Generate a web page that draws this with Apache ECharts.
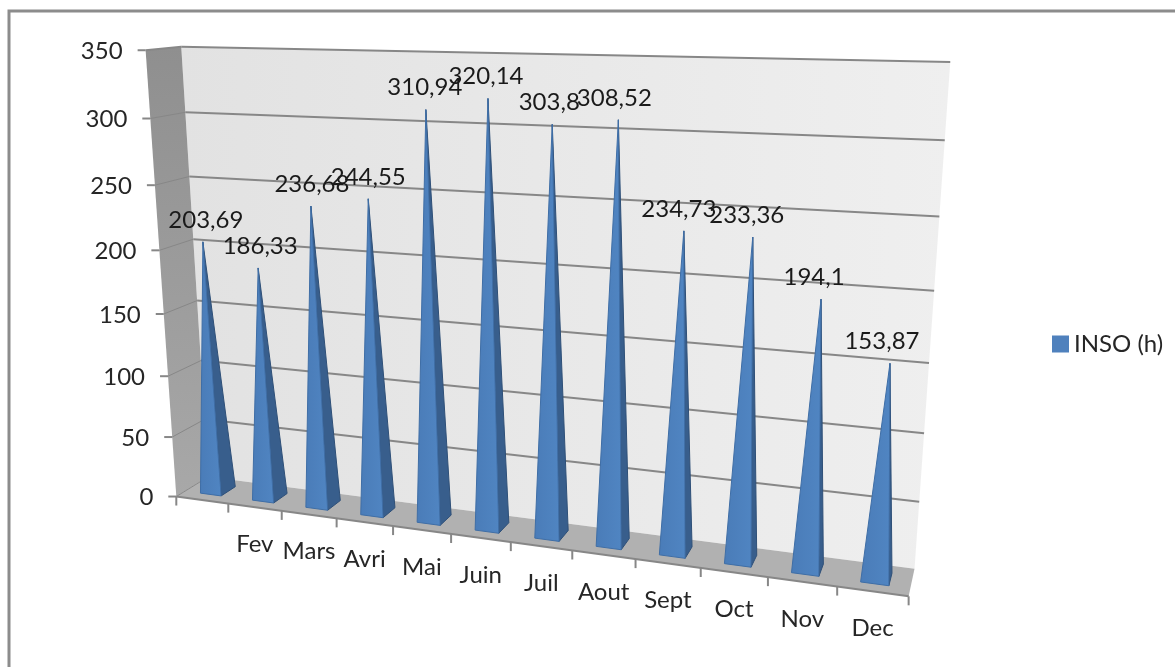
<!DOCTYPE html>
<html><head><meta charset="utf-8">
<style>html,body{margin:0;padding:0;background:#fff}#c{width:1175px;height:667px}</style>
<script src="https://cdn.jsdelivr.net/npm/echarts@6/dist/echarts.min.js"></script>
</head><body><div id="c"></div>
<script>
const categories = ['', 'Fev', 'Mars', 'Avri', 'Mai', 'Juin', 'Juil', 'Aout', 'Sept', 'Oct', 'Nov', 'Dec'];
const insoValues = [203.69, 186.33, 236.68, 244.55, 310.94, 320.14, 303.8, 308.52, 234.73, 233.36, 194.1, 153.87];
const valueTicks = [0, 50, 100, 150, 200, 250, 300, 350];
const seriesName = 'INSO (h)';

/* camera calibration of the 3D box: [u, v, w] -> screen */
const corners = [
  [0,0,0,178.5,497],[1,0,0,908,597],[1,0,1,915,568],[0,0,1,207,476],
  [0,1,1,183,47],[1,1,1,950,62],[0,1,0,144,50]
];
const calib = corners.concat(corners, corners, [
  [0,6/7,1,186,113],[1,6/7,1,945,140.5],[0,1/7,1,201,422],[1,1/7,1,920,502],
  [0,1/7,0,172,436],[0,6/7,0,150,117]
]);
function solveCamera(pts){
  const n=11, A=Array.from({length:n},()=>new Array(n+1).fill(0));
  const add=(r,b)=>{for(let i=0;i<n;i++){for(let j=0;j<n;j++)A[i][j]+=r[i]*r[j];A[i][n]+=r[i]*b;}};
  pts.forEach(([X,Y,Z,px,py])=>{
    const x=px/1000,y=py/1000;
    add([X,Y,Z,1,0,0,0,0,-x*X,-x*Y,-x*Z],x);
    add([0,0,0,0,X,Y,Z,1,-y*X,-y*Y,-y*Z],y);
  });
  for(let c=0;c<n;c++){
    let p=c;for(let r=c+1;r<n;r++)if(Math.abs(A[r][c])>Math.abs(A[p][c]))p=r;
    [A[c],A[p]]=[A[p],A[c]];
    for(let r=0;r<n;r++)if(r!==c){const f=A[r][c]/A[c][c];for(let k=c;k<=n;k++)A[r][k]-=f*A[c][k];}
  }
  return A.map((row,i)=>row[n]/row[i]);
}
const M=solveCamera(calib);
function proj(u,v,w){
  const d=M[8]*u+M[9]*v+M[10]*w+1;
  return [1000*(M[0]*u+M[1]*v+M[2]*w+M[3])/d,1000*(M[4]*u+M[5]*v+M[6]*w+M[7])/d];
}
const font='24px Lato', textColor='#262626', gridColor='#878787';
const chart=echarts.init(document.getElementById('c'),null,{renderer:'canvas'});
const LG=(a,b,c,d,c0,c1)=>new echarts.graphic.LinearGradient(a,b,c,d,[{offset:0,color:c0},{offset:1,color:c1}]);

function norm(params,api,cat,val){
  const r=params.coordSys, p=api.coord([cat,val]);
  return [(p[0]-r.x)/r.width,1-(p[1]-r.y)/r.height];
}
function line(a,b,w){return {type:'line',shape:{x1:a[0],y1:a[1],x2:b[0],y2:b[1]},style:{stroke:gridColor,lineWidth:w||2}};}
function poly(pts,fill,stroke,lw){return {type:'polygon',shape:{points:pts},style:{fill:fill,stroke:stroke||null,lineWidth:lw||0}};}

function renderFrame(params,api){
  const kids=[];
  kids.push({type:'rect',shape:{x:9,y:11,width:1300,height:900},style:{fill:'none',stroke:'#8c8c8c',lineWidth:3}});
  kids.push(poly([proj(0,0,1),proj(1,0,1),proj(1,1,1),proj(0,1,1)],LG(0,0,1,0,'#e2e2e2','#efefef')));
  kids.push(poly([proj(0,0,0),proj(0,0,1),proj(0,1,1),proj(0,1,0)],LG(0,0,0,1,'#8f8f8f','#a8a8a8')));
  kids.push(poly([proj(0,0,0),proj(1,0,0),proj(1,0,1),proj(0,0,1)],'#b1b1b1'));
  valueTicks.forEach(t=>{
    const v=norm(params,api,0,t)[1];
    const a=proj(0,v,0),b=proj(0,v,1),c=proj(1,v,1);
    if(t>0)kids.push(line(b,c));
    kids.push(line(a,b,t===350?2:1));
    kids.push(line([a[0]-8,a[1]],a));
    kids.push({type:'text',style:{text:String(t),x:a[0]-23,y:a[1]+1,font:font,fill:textColor,textAlign:'right',textVerticalAlign:'middle'}});
  });
  const f0=proj(0,0,0),f1=proj(1,0,0);
  kids.push(line(f0,f1));
  const cellU=api.size([1,0])[0]/params.coordSys.width;
  for(let i=0;i<=categories.length;i++){
    const p=proj(i*cellU,0,0);
    kids.push(line(p,[p[0],p[1]+9]));
  }
  categories.forEach((c,i)=>{
    const p=proj(norm(params,api,i,0)[0],0,0);
    kids.push({type:'text',style:{text:c,x:p[0],y:p[1]+37,font:font,fill:textColor,textAlign:'center',textVerticalAlign:'middle'}});
  });
  return {type:'group',children:kids};
}
function renderSpike(params,api){
  const i=api.value(0), val=api.value(1);
  const n=norm(params,api,i,val), uc=n[0], v=n[1];
  const half=0.2*api.size([1,0])[0]/params.coordSys.width;
  const w0=0.27,w1=0.73;
  const fl=proj(uc-half,0,w0),fr=proj(uc+half,0,w0),br=proj(uc+half,0,w1);
  const apex=proj(uc,v,(w0+w1)/2);
  const label=String(val).replace('.',',');
  return {type:'group',children:[
    poly([fr,br,apex],'#385e8c','#2f5078',1),
    poly([fl,fr,apex],LG(0,0,1,0,'#4a7cb8','#5085c2'),'#3f6ea6',1),
    {type:'text',z2:10,style:{text:label,x:apex[0]+3-i,y:apex[1]-22,font:font,fill:'#1a1a1a',textAlign:'center',textVerticalAlign:'middle'}}
  ]};
}
chart.setOption({
  animation:false,
  backgroundColor:'#fff',
  grid:{left:0,right:0,top:0,bottom:0},
  xAxis:{type:'category',data:categories,show:false},
  yAxis:{type:'value',min:0,max:350,interval:50,show:false},
  legend:{data:[seriesName],left:1047,top:327,itemWidth:17,itemHeight:17,icon:'rect',selectedMode:false,
    textStyle:{fontFamily:'Lato',fontSize:24,color:textColor}},
  series:[
    {type:'custom',name:'frame',silent:true,clip:false,z:1,renderItem:renderFrame,data:[[0,0]],encode:{x:0,y:1}},
    {type:'custom',name:seriesName,silent:true,clip:false,z:2,renderItem:renderSpike,
     itemStyle:{color:'#4f81bd'},encode:{x:0,y:1},
     data:insoValues.map((v,i)=>[i,v])}
  ]
});
</script></body></html>
